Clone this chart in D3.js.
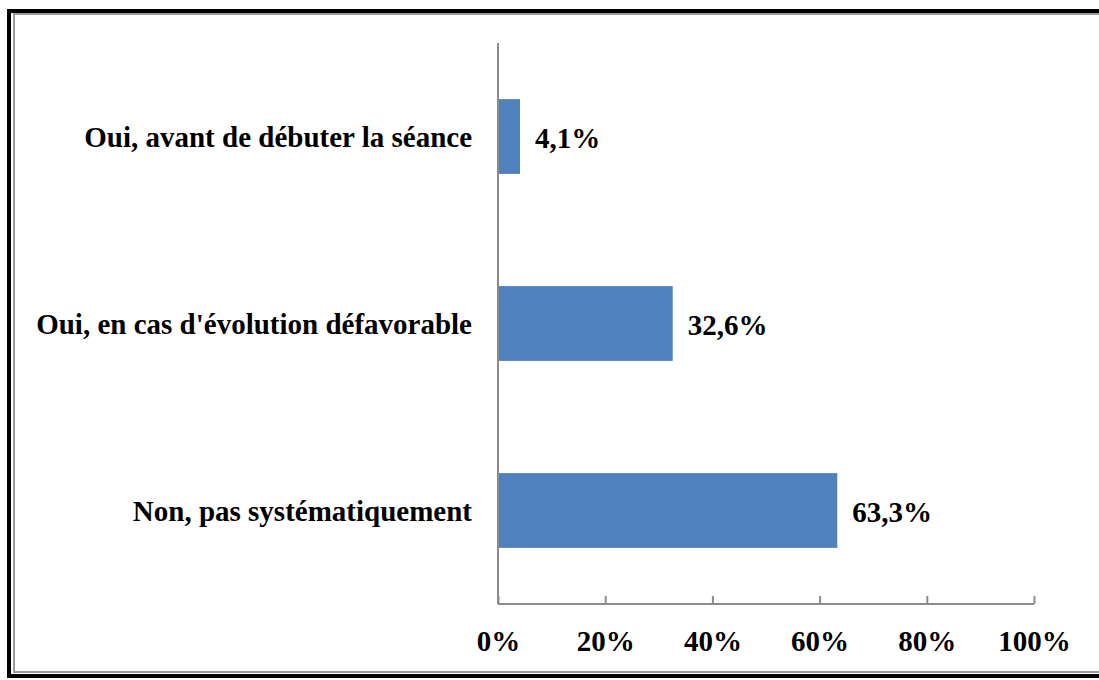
<!DOCTYPE html>
<html><head><meta charset="utf-8">
<script src="https://cdn.jsdelivr.net/npm/d3@7"></script>
<style>html,body{margin:0;padding:0;background:#fff;}svg{display:block;}</style>
</head><body>
<script>
const categories = ["Oui, avant de débuter la séance", "Oui, en cas d'évolution défavorable", "Non, pas systématiquement"];
const values = [4.1, 32.6, 63.3];
const valueLabels = ["4,1%", "32,6%", "63,3%"];
const tickValues = [0, 20, 40, 60, 80, 100];

const W = 1099, H = 680;
const svg = d3.select("body").append("svg").attr("width", W).attr("height", H);
const font = "'Liberation Serif','Times New Roman',serif";
const fs = "29px";

// frame
svg.append("rect").attr("x", 9).attr("y", 11).attr("width", W + 20).attr("height", 665)
  .attr("fill", "none").attr("stroke", "#000").attr("stroke-width", 4);
svg.append("rect").attr("x", 14).attr("y", 14).attr("width", W + 20).attr("height", 658)
  .attr("fill", "none").attr("stroke", "#9a9a9a").attr("stroke-width", 2);

const x = d3.scaleLinear().domain([0, 100]).range([498, 1034]);
const y = d3.scaleBand().domain(categories).range([43, 604]).paddingInner(0.6).paddingOuter(0.3);

const axisColor = "#8c8c8c";
// bars
svg.selectAll("rect.bar").data(categories).enter().append("rect")
  .attr("class", "bar")
  .attr("x", x(0))
  .attr("y", d => y(d))
  .attr("width", (d, i) => x(values[i]) - x(0))
  .attr("height", y.bandwidth())
  .attr("fill", "#4F81BD");

// y axis line
svg.append("line").attr("x1", x(0)).attr("x2", x(0)).attr("y1", 43).attr("y2", 604)
  .attr("stroke", axisColor).attr("stroke-width", 2);
// x axis
const xAxis = d3.axisBottom(x).tickValues(tickValues).tickFormat(d => d + "%").tickSize(-8).tickPadding(0);
const gx = svg.append("g").attr("transform", "translate(0,604)").call(xAxis);
gx.select(".domain").attr("stroke", axisColor).attr("stroke-width", 2).attr("d", `M${x(0)},0H${x(100)}`);
gx.selectAll(".tick line").attr("stroke", axisColor).attr("stroke-width", 2);
gx.selectAll(".tick text").attr("y", 47).attr("dy", 0)
  .style("font-family", font).style("font-weight", "bold").style("font-size", fs).attr("fill", "#000");

// category labels
svg.selectAll("text.cat").data(categories).enter().append("text")
  .attr("class", "cat")
  .attr("x", 472)
  .attr("y", d => y(d) + y.bandwidth() / 2 + 10)
  .attr("text-anchor", "end")
  .style("font-family", font).style("font-weight", "bold").style("font-size", fs)
  .text(d => d);

// value labels
svg.selectAll("text.val").data(categories).enter().append("text")
  .attr("class", "val")
  .attr("x", (d, i) => x(values[i]) + 15)
  .attr("y", d => y(d) + y.bandwidth() / 2 + 11)
  .style("font-family", font).style("font-weight", "bold").style("font-size", fs)
  .text((d, i) => valueLabels[i]);
</script>
</body></html>
